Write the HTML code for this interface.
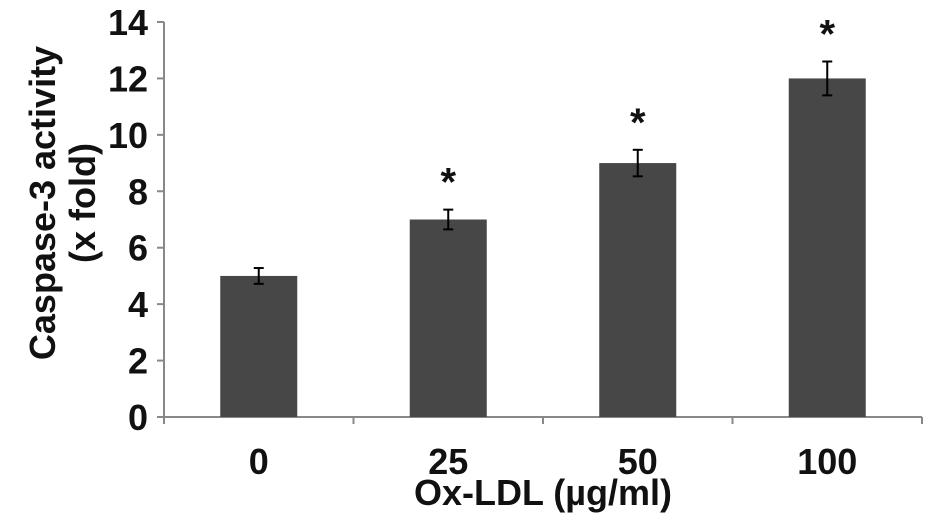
<!DOCTYPE html>
<html><head><meta charset="utf-8"><style>
body{margin:0;background:#fff}
svg text{font-family:"Liberation Sans",Arial,sans-serif;font-weight:bold;fill:#111}
</style></head><body>
<svg id="chart" width="934" height="520" xmlns="http://www.w3.org/2000/svg"></svg>
<script>
const categories=["0","25","50","100"];
const values=[5,7,9,12];
const errors=[0.28,0.35,0.47,0.6];
const significant=[false,true,true,true];
const yTicks=[0,2,4,6,8,10,12,14];
const NS="http://www.w3.org/2000/svg";
const svg=document.getElementById('chart');
const x0=164,x1=922,y0=417,yTop=22,yMax=14;
const catW=(x1-x0)/categories.length;
function yS(v){return y0-(v/yMax)*(y0-yTop);}
function xC(i){return x0+catW*(i+0.5);}
function add(tag,attrs,name,text){const e=document.createElementNS(NS,tag);for(const k in attrs)e.setAttribute(k,attrs[k]);


if(text!==undefined)e.textContent=text;svg.appendChild(e);return e;}
add('line',{x1:x0,y1:yTop,x2:x0,y2:y0,stroke:'#888','stroke-width':2},'y-axis');
add('line',{x1:x0,y1:y0,x2:x1,y2:y0,stroke:'#888','stroke-width':2},'x-axis');
yTicks.forEach(t=>{const y=yS(t);
add('line',{x1:x0-7,y1:y,x2:x0,y2:y,stroke:'#888','stroke-width':2},'y-tick');
add('text',{x:x0-16,y:y+13,'font-size':36,'text-anchor':'end'},'y-tick-label',t);});
for(let i=0;i<=categories.length;i++){const x=x0+catW*i;
add('line',{x1:x,y1:y0,x2:x,y2:y0+7,stroke:'#888','stroke-width':2},'x-tick');}
categories.forEach((c,i)=>{const cx=xC(i),bw=77;
add('rect',{x:cx-bw/2,y:yS(values[i]),width:bw,height:y0-yS(values[i]),fill:'#474747'},'bar-'+c);
const t=yS(values[i]+errors[i]),b=yS(values[i]-errors[i]);
add('line',{x1:cx,y1:t,x2:cx,y2:b,stroke:'#000','stroke-width':2},'error-bar');
add('line',{x1:cx-5,y1:t,x2:cx+5,y2:t,stroke:'#000','stroke-width':2},'error-cap');
add('line',{x1:cx-5,y1:b,x2:cx+5,y2:b,stroke:'#000','stroke-width':2},'error-cap');
if(significant[i])add('text',{x:cx,y:t-14,'font-size':40,'text-anchor':'middle'},'significance-star','*');
add('text',{x:cx,y:474,'font-size':36,'text-anchor':'middle'},'x-tick-label',c);});
add('text',{x:543,y:505,'font-size':36,'text-anchor':'middle'},'x-axis-title','Ox-LDL (µg/ml)');
add('text',{x:0,y:0,'font-size':36,'text-anchor':'middle',transform:'translate(55,203) rotate(-90)'},'y-axis-title','Caspase-3 activity');
add('text',{x:0,y:0,'font-size':36,'text-anchor':'middle',transform:'translate(95,203) rotate(-90)'},'y-axis-title-unit','(x fold)');
</script>
</body></html>
